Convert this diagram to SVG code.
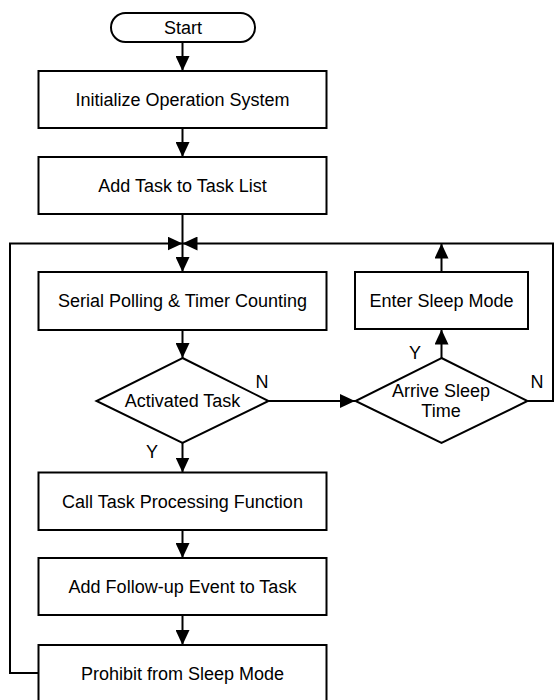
<svg xmlns="http://www.w3.org/2000/svg" width="555" height="700" viewBox="0 0 555 700">
<defs>
<style>
.n{fill:#fff;stroke:#000;stroke-width:2}
.t{font-family:"Liberation Sans",Arial,sans-serif;font-size:18px;fill:#000;text-anchor:middle}
.c{fill:none;stroke:#000;stroke-width:2}
</style>
<marker id="ah" viewBox="0 0 15 14" refX="15" refY="7" markerWidth="15" markerHeight="14" orient="auto" markerUnits="userSpaceOnUse">
<path d="M0,0 L15,7 L0,14 z" fill="#000"/>
</marker>
</defs>
<rect width="555" height="700" fill="#fff"/>
<g id="connectors">
<path class="c" d="M182.5,42 V71" marker-end="url(#ah)"/>
<path class="c" d="M182.5,128 V157" marker-end="url(#ah)"/>
<path class="c" d="M182.5,214 V272" marker-end="url(#ah)"/>
<path class="c" d="M182.5,330 V358" marker-end="url(#ah)"/>
<path class="c" d="M182.5,443 V472.5" marker-end="url(#ah)"/>
<path class="c" d="M182.5,530 V558" marker-end="url(#ah)"/>
<path class="c" d="M182.5,615 V645" marker-end="url(#ah)"/>
<path class="c" d="M268.5,401 H355" marker-end="url(#ah)"/>
<path class="c" d="M441.5,358 V329.5" marker-end="url(#ah)"/>
<path class="c" d="M441.5,272 V243.5" marker-end="url(#ah)"/>
<path class="c" d="M527.5,401 H553 V243.5 H182.5" marker-end="url(#ah)"/>
<path class="c" d="M38.5,673 H10 V243.5 H182.5" marker-end="url(#ah)"/>
<text class="t" x="262" y="388">N</text>
<text class="t" x="152" y="458">Y</text>
<text class="t" x="537" y="388">N</text>
<text class="t" x="415" y="359">Y</text>
</g>
<g id="start">
<rect class="n" x="111" y="13" width="144" height="29" rx="14.5"/>
<text class="t" x="183" y="34">Start</text>
</g>
<g id="init">
<rect class="n" x="38.5" y="71" width="288" height="57"/>
<text class="t" x="182.5" y="106">Initialize Operation System</text>
</g>
<g id="addtask">
<rect class="n" x="38.5" y="157" width="288" height="57"/>
<text class="t" x="182.5" y="192">Add Task to Task List</text>
</g>
<g id="serial">
<rect class="n" x="38.5" y="272" width="288" height="58"/>
<text class="t" x="182.5" y="307">Serial Polling &amp; Timer Counting</text>
</g>
<g id="activated">
<polygon class="n" points="182.5,358 268.5,401 182.5,443 96.5,401"/>
<text class="t" x="182.5" y="407">Activated Task</text>
</g>
<g id="arrive">
<polygon class="n" points="441.5,358 527.5,401 441.5,443 355.5,401"/>
<text class="t" x="441" y="397">Arrive Sleep</text>
<text class="t" x="441" y="417">Time</text>
</g>
<g id="sleep">
<rect class="n" x="355" y="272" width="173" height="57"/>
<text class="t" x="441.5" y="307">Enter Sleep Mode</text>
</g>
<g id="call">
<rect class="n" x="38.5" y="472.5" width="288" height="57.5"/>
<text class="t" x="182.5" y="507.5">Call Task Processing Function</text>
</g>
<g id="followup">
<rect class="n" x="38.5" y="558" width="288" height="57"/>
<text class="t" x="182.5" y="593">Add Follow-up Event to Task</text>
</g>
<g id="prohibit">
<rect class="n" x="38.5" y="645" width="288" height="57"/>
<text class="t" x="182.5" y="680">Prohibit from Sleep Mode</text>
</g>
</svg>
